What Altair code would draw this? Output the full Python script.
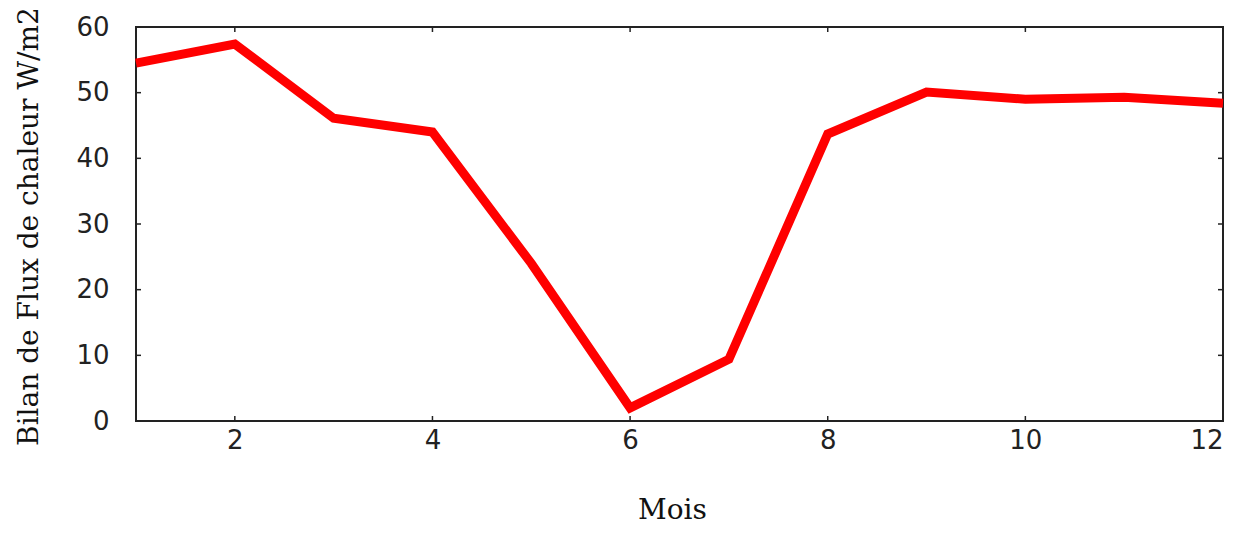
import altair as alt
import pandas as pd

mois = [1, 2, 3, 4, 5, 6, 7, 8, 9, 10, 11, 12]
bilan = [54.5, 57.4, 46.1, 44.0, 24.0, 2.0, 9.4, 43.7, 50.1, 49.0, 49.3, 48.4]
x_ticks = [2, 4, 6, 8, 10, 12]
y_ticks = [0, 10, 20, 30, 40, 50, 60]

W, H = 1087, 394
TICK = 5

df = pd.DataFrame({"mois": mois, "bilan": bilan})
xt = pd.DataFrame({"t": x_ticks})
yt = pd.DataFrame({"t": y_ticks})

xs = alt.Scale(domain=[1, 12], nice=False, zero=False)
ys = alt.Scale(domain=[0, 60], nice=False)

line = alt.Chart(df).mark_line(color="#ff0000", strokeWidth=9, strokeJoin="miter", strokeCap="butt").encode(
    x=alt.X("mois:Q", scale=xs, title="Mois",
            axis=alt.Axis(values=x_ticks, format="d", ticks=False, domain=False, grid=False,
                          labelFont="DejaVu Sans", labelFontSize=26, labelColor="#222",
                          labelPadding=6, labelBaseline="top",
                          titleFont="DejaVu Serif", titleFontSize=28, titleFontWeight="normal",
                          titleColor="#111", titleX=536, titleY=97, titleBaseline="alphabetic")),
    y=alt.Y("bilan:Q", scale=ys, title="Bilan de Flux de chaleur W/m2",
            axis=alt.Axis(values=y_ticks, format="d", ticks=False, domain=False, grid=False,
                          labelFont="DejaVu Sans", labelFontSize=26, labelColor="#222",
                          labelPadding=27, labelBaseline="middle",
                          titleFont="DejaVu Serif", titleFontSize=28, titleFontWeight="normal",
                          titleColor="#111", titleX=-99, titleY=199, titleAngle=-90,
                          titleBaseline="alphabetic", titleAlign="center")),
)

tick_color = "#222"
xb = alt.Chart(xt).mark_rule(color=tick_color, strokeWidth=1.5).encode(
    x=alt.X("t:Q", scale=xs), y=alt.value(H), y2=alt.value(H - TICK))
xtop = alt.Chart(xt).mark_rule(color=tick_color, strokeWidth=1.5).encode(
    x=alt.X("t:Q", scale=xs), y=alt.value(0), y2=alt.value(TICK))
yl = alt.Chart(yt).mark_rule(color=tick_color, strokeWidth=1.5).encode(
    y=alt.Y("t:Q", scale=ys), x=alt.value(0), x2=alt.value(TICK))
yr = alt.Chart(yt).mark_rule(color=tick_color, strokeWidth=1.5).encode(
    y=alt.Y("t:Q", scale=ys), x=alt.value(W), x2=alt.value(W - TICK))

chart = alt.layer(xb, xtop, yl, yr, line).properties(
    width=W, height=H,
    autosize=alt.AutoSizeParams(type="none"),
    padding={"left": 128, "top": 19, "right": 20, "bottom": 104},
).configure(background="white").configure_view(stroke="#222", strokeWidth=2)

chart.save("out.html", embed_options={"renderer": "svg", "actions": False})
